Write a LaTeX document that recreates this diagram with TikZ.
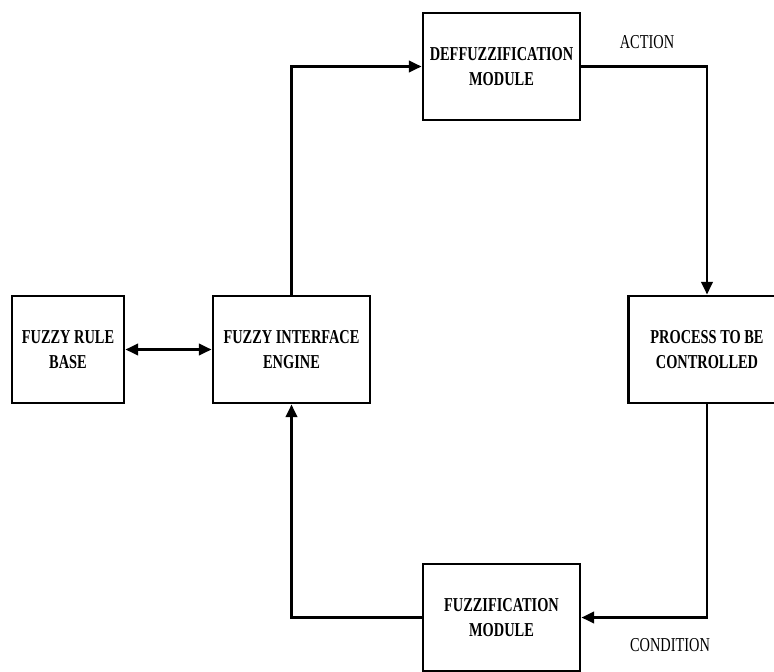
\documentclass[tikz,border=0pt]{standalone}
\usepackage{fontspec}
\setmainfont{Liberation Serif}[FakeStretch=0.73]
\usetikzlibrary{arrows.meta}
\tikzset{
  block/.style = {rectangle, draw=black, line width=2pt, align=center, minimum height=2.675cm, font=\bfseries\fontsize{14}{18}\selectfont},
  smallblock/.style = {block, minimum width=2.8cm},
  wideblock/.style = {block, minimum width=3.925cm},
  signal/.style = {font=\fontsize{14}{18}\selectfont},
  link/.style = {line width=2pt, -{Triangle[length=9pt,width=8pt]}}
}
\begin{document}
\begin{tikzpicture}[x=0.025cm, y=-0.025cm]
\useasboundingbox (0,0) rectangle (774,671);
% BLOCKS
\node (Rule-Base) [smallblock] at (68,349.5) {FUZZY RULE\\BASE};
\node (Engine) [wideblock] at (291.5,349.5) {FUZZY INTERFACE\\ENGINE};
\node (Defuzz) [wideblock] at (501.5,66.5) {DEFFUZZIFICATION\\MODULE};
\node (Process) [wideblock] at (707,349.5) {PROCESS TO BE\\CONTROLLED};
\node (Fuzz) [wideblock] at (501.5,617.5) {FUZZIFICATION\\MODULE};
% SIGNAL LABELS
\node (Action-Text) [signal] at (647,42) {ACTION};
\node (Condition-Text) [signal] at (670,645) {CONDITION};
% CONNECTORS
\draw [link, {Triangle[length=9pt,width=8pt]}-{Triangle[length=9pt,width=8pt]}] (Rule-Base) -- (Engine);
\draw [link] (Engine.north) |- (Defuzz.west);
\draw [link] (Defuzz.east) -| (Process.north);
\draw [link] (Process.south) |- (Fuzz.east);
\draw [link] (Fuzz.west) -| (Engine.south);
\end{tikzpicture}
\end{document}
